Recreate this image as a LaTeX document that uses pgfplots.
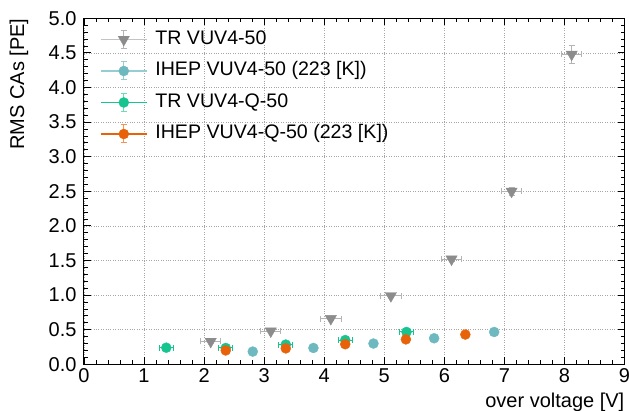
\documentclass[border=0pt]{standalone}
\usepackage{pgfplots}
\pgfplotsset{compat=1.18}
\usepackage{pgfplotstable}
\usepackage{fontspec}
\setmainfont{Liberation Sans}

\definecolor{trgray}{RGB}{140,140,140}
\definecolor{trgraylight}{RGB}{180,180,180}
\definecolor{trgrayline}{RGB}{195,195,195}
\definecolor{tealc}{RGB}{110,184,192}
\definecolor{teallight}{RGB}{150,205,210}
\definecolor{greenc}{RGB}{22,196,143}
\definecolor{greenlight}{RGB}{110,220,185}
\definecolor{orangec}{RGB}{232,98,10}
\definecolor{orangelight}{RGB}{240,150,90}

\pgfplotstableread{
x y ex ey
2.11 0.33 0.17 0.02
3.11 0.48 0.17 0.02
4.11 0.66 0.17 0.03
5.11 0.99 0.17 0.03
6.12 1.52 0.17 0.03
7.12 2.50 0.16 0.06
8.12 4.48 0.17 0.13
}\trvuv

\pgfplotstableread{
x y ex ey
2.81 0.184 0.00 0.00
3.82 0.236 0.00 0.00
4.82 0.300 0.00 0.00
5.83 0.376 0.00 0.00
6.83 0.467 0.00 0.00
}\ihepvuv

\pgfplotstableread{
x y ex ey
1.37 0.240 0.12 0.02
2.36 0.236 0.12 0.02
3.36 0.285 0.12 0.02
4.35 0.350 0.12 0.02
5.37 0.467 0.12 0.02
}\trq

\pgfplotstableread{
x y ex ey
2.36 0.200 0.00 0.01
3.36 0.230 0.00 0.01
4.35 0.290 0.00 0.01
5.36 0.360 0.00 0.01
6.35 0.430 0.00 0.01
}\ihepq

\pgfplotsset{
  myerr/.style={
    error bars/x dir=both, error bars/x explicit,
    error bars/y dir=both, error bars/y explicit,
    error bars/error bar style={color=#1, line width=1pt},
    error bars/error mark options={rotate=90, color=#1, mark size=3pt, line width=1pt},
  }
}

\begin{document}
\begin{tikzpicture}
\begin{axis}[
  scale only axis,
  width=540.5pt, height=346pt,
  xmin=0, xmax=9, ymin=0, ymax=5,
  xtick={0,1,2,3,4,5,6,7,8,9},
  ytick={0,0.5,1,1.5,2,2.5,3,3.5,4,4.5,5},
  minor x tick num=4, minor y tick num=4,
  tick align=inside,
  major tick length=7pt, minor tick length=4pt,
  axis line style={line width=1pt},
  every tick/.style={black, line width=0.8pt},
  grid=major,
  major grid style={dotted, black!35, line width=0.7pt},
  /pgf/number format/assume math mode=true,
  ticklabel style={font=\fontsize{20}{24}\selectfont},
  yticklabel style={/pgf/number format/.cd, fixed, fixed zerofill, precision=1},
  xticklabel shift=1pt,
  yticklabel shift=4pt,
  xlabel={over voltage [V]},
  ylabel={RMS CAs [PE]},
  label style={font=\fontsize{20}{24}\selectfont},
  xlabel style={at={(axis description cs:1,-0.0824)}, anchor=north east, inner sep=0pt},
  ylabel style={at={(axis description cs:-0.1027,1)}, anchor=south east, inner sep=0pt},
  legend style={at={(axis description cs:0,1)}, anchor=north west,
    xshift=16pt, yshift=-11.5pt, draw=none, fill=none, inner sep=0pt,
    row sep=12.5pt, column sep=8pt, font=\fontsize{19.6}{23}\selectfont,
    nodes={inner sep=0pt, text height=14pt, text depth=4pt}},
  legend cell align=left,
]
\addplot[only marks, color=trgray, mark=triangle*, mark size=6.5pt,
  mark options={rotate=180, fill=trgray, draw=trgray},
  myerr=trgraylight,
  legend image code/.code={
    \draw[trgrayline, line width=1.2pt] (0pt,0pt) -- (46pt,0pt);
    \draw[trgraylight, line width=1pt] (23pt,-9pt) -- (23pt,9pt) (20pt,-9pt) -- (26pt,-9pt) (20pt,9pt) -- (26pt,9pt);
    \fill[trgray] (17.4pt,3.25pt) -- (28.6pt,3.25pt) -- (23pt,-6.5pt) -- cycle;
  }]
  table[x=x, y=y, x error=ex, y error=ey] {\trvuv};
\addlegendentry{TR VUV4-50}

\addplot[only marks, color=tealc, mark=*, mark size=5pt,
  mark options={fill=tealc, draw=tealc},
  myerr=teallight,
  legend image code/.code={
    \draw[teallight, line width=1.2pt] (0pt,0pt) -- (46pt,0pt);
    \draw[teallight, line width=1pt] (23pt,-9pt) -- (23pt,9pt) (20pt,-9pt) -- (26pt,-9pt) (20pt,9pt) -- (26pt,9pt);
    \fill[tealc] (23pt,0pt) circle (5pt);
  }]
  table[x=x, y=y, x error=ex, y error=ey] {\ihepvuv};
\addlegendentry{IHEP VUV4-50 (223 [K])}

\addplot[only marks, color=greenc, mark=*, mark size=5pt,
  mark options={fill=greenc, draw=greenc},
  myerr=greenc,
  legend image code/.code={
    \draw[greenc, line width=1.2pt] (0pt,0pt) -- (46pt,0pt);
    \draw[greenlight, line width=1pt] (23pt,-9pt) -- (23pt,9pt) (20pt,-9pt) -- (26pt,-9pt) (20pt,9pt) -- (26pt,9pt);
    \fill[greenc] (23pt,0pt) circle (5pt);
  }]
  table[x=x, y=y, x error=ex, y error=ey] {\trq};
\addlegendentry{TR VUV4-Q-50}

\addplot[only marks, color=orangec, mark=*, mark size=5pt,
  mark options={fill=orangec, draw=orangec},
  myerr=orangelight,
  legend image code/.code={
    \draw[orangec, line width=1.2pt] (0pt,0pt) -- (46pt,0pt);
    \draw[orangelight, line width=1pt] (23pt,-9pt) -- (23pt,9pt) (20pt,-9pt) -- (26pt,-9pt) (20pt,9pt) -- (26pt,9pt);
    \fill[orangec] (23pt,0pt) circle (5pt);
  }]
  table[x=x, y=y, x error=ex, y error=ey] {\ihepq};
\addlegendentry{IHEP VUV4-Q-50 (223 [K])}
\end{axis}
\pgfresetboundingbox
\path[use as bounding box] ([shift={(-84pt,-46pt)}]current axis.south west) rectangle ([shift={(4.5pt,18.3pt)}]current axis.north east);
\end{tikzpicture}
\end{document}
